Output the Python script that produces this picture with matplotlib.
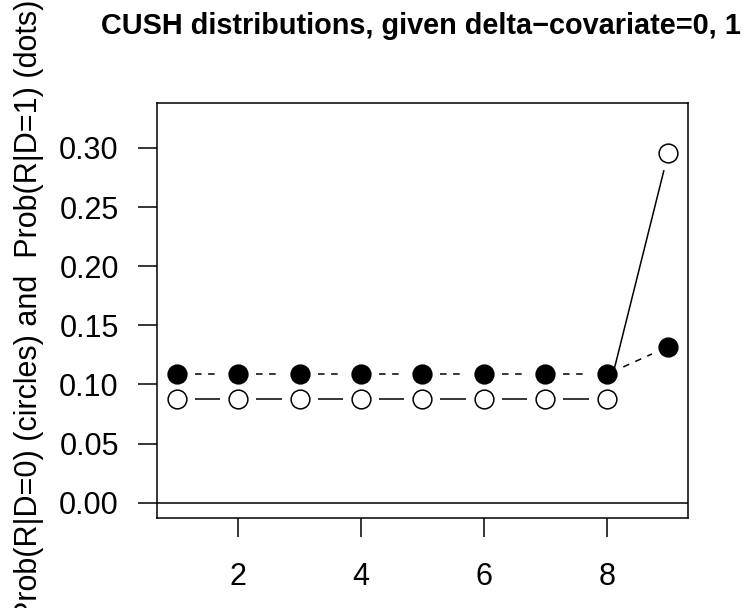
import matplotlib as mpl
mpl.use('Agg')
import matplotlib.pyplot as plt
import numpy as np

# response categories and CUSH probabilities
categories = [1, 2, 3, 4, 5, 6, 7, 8, 9]
prob_d0 = [0.088, 0.088, 0.088, 0.088, 0.088, 0.088, 0.088, 0.088, 0.296]
prob_d1 = [0.1085, 0.1085, 0.1085, 0.1085, 0.1085, 0.1085, 0.1085, 0.1085, 0.132]
x_ticks = [2, 4, 6, 8]
y_ticks = [0.00, 0.05, 0.10, 0.15, 0.20, 0.25, 0.30]

plt.rcParams['font.family'] = ['Liberation Sans', 'DejaVu Sans']

fig = plt.figure(figsize=(7.48, 6.08), dpi=100)
ax = fig.add_axes([157 / 748, 1 - 518 / 608, 531 / 748, 415 / 608])
ax.set_xlim(0.68, 9.32)
ax.set_ylim(-0.013, 0.338)


def gapped_segments(xs, ys, gap_px, **kw):
    # R type="b": segments between points, cut short near each point
    fig.canvas.draw()
    pts = ax.transData.transform(np.column_stack([xs, ys]))
    inv = ax.transData.inverted()
    for p, q in zip(pts[:-1], pts[1:]):
        d = q - p
        n = np.hypot(*d)
        if n <= 2 * gap_px:
            continue
        u = d / n
        a = inv.transform(p + u * gap_px)
        b = inv.transform(q - u * gap_px)
        ax.plot([a[0], b[0]], [a[1], b[1]], color='black', lw=1.1,
                solid_capstyle='butt', dash_capstyle='butt', **kw)


ax.axhline(0, color='black', lw=1.1)
gapped_segments(categories, prob_d0, 18, linestyle='-')
gapped_segments(categories, prob_d1, 18, dashes=(4.3, 4.3))
ax.plot(categories, prob_d0, 'o', ms=13.5, mfc='white', mec='black', mew=1.1, zorder=3)
ax.plot(categories, prob_d1, 'o', ms=13.5, mfc='black', mec='black', mew=1.1, zorder=3)

ax.set_xticks(x_ticks)
ax.set_xticklabels([str(t) for t in x_ticks])
ax.set_yticks(y_ticks)
ax.set_yticklabels(['%.2f' % t for t in y_ticks])
ax.tick_params(axis='both', length=13.5, width=1.1, labelsize=22)
ax.tick_params(axis='x', pad=18.5)
ax.tick_params(axis='y', pad=14)
for s in ax.spines.values():
    s.set_linewidth(1.1)

fig.text(421 / 748, 1 - 34.5 / 608, 'CUSH distributions, given delta\u2212covariate=0, 1',
         ha='center', va='baseline', fontsize=20.8, fontweight='bold')
fig.text(44 / 748, 1 - 310.5 / 608,
         'Prob(R|D=0) (circles) and  Prob(R|D=1) (dots)',
         rotation=90, ha='right', va='center', fontsize=22)

fig.savefig('out.png', dpi=100)
